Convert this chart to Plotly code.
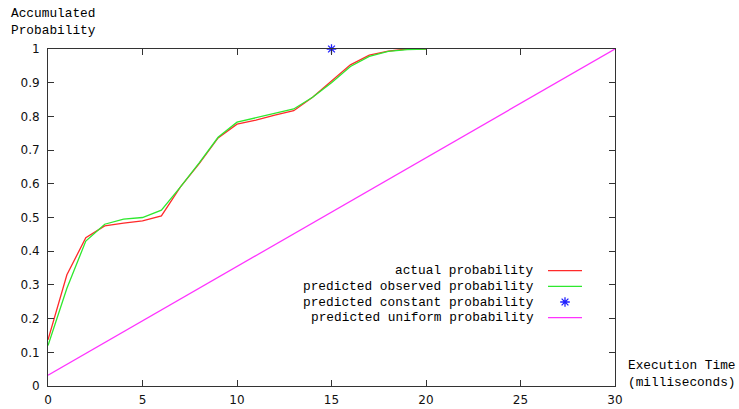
import plotly.graph_objects as go

# ---- data ----
x_ms = list(range(0, 21))
actual = [0.137, 0.33, 0.44, 0.475, 0.483, 0.49, 0.505, 0.59, 0.66, 0.736, 0.777,
          0.789, 0.804, 0.817, 0.857, 0.905, 0.953, 0.982, 0.994, 1.0, 1.0]
observed = [0.12, 0.29, 0.43, 0.48, 0.495, 0.50, 0.522, 0.59, 0.662, 0.738, 0.783,
            0.796, 0.808, 0.822, 0.857, 0.90, 0.948, 0.978, 0.993, 0.998, 1.0]
const_x = [15]
const_y = [1.0]
uniform_x = [0, 30]
uniform_y = [0.032, 1.0]

legend_labels = ["actual probability", "predicted observed probability",
                 "predicted constant probability", "predicted uniform probability"]

RED = "#ff2a2a"
GREEN = "#2ee82e"
BLUE = "#2020ff"
MAG = "#ff33ff"
MONO = "Liberation Mono, DejaVu Sans Mono, monospace"
SANS = "DejaVu Sans, Liberation Sans, sans-serif"

W, H = 739, 409
L, R, T, B = 48, 124, 49, 23
PW, PH = W - L - R, H - T - B


def px(xp):  # page pixel -> paper fraction
    return (xp - L) / PW


def py(yp):
    return (H - B - yp) / PH


fig = go.Figure()
fig.add_trace(go.Scatter(x=x_ms, y=actual, mode="lines", line=dict(color=RED, width=1.3)))
fig.add_trace(go.Scatter(x=x_ms, y=observed, mode="lines", line=dict(color=GREEN, width=1.3)))
fig.add_trace(go.Scatter(x=const_x, y=const_y, mode="markers", cliponaxis=False,
                         marker=dict(symbol="asterisk-open", size=8, color=BLUE,
                                     line=dict(color=BLUE, width=1.3))))
fig.add_trace(go.Scatter(x=uniform_x, y=uniform_y, mode="lines", line=dict(color=MAG, width=1.3)))

# custom legend (samples on the right of right-aligned labels, gnuplot style)
row_y = [270.7, 286.3, 302, 317.6]
styles = [("line", RED), ("line", GREEN), ("marker", BLUE), ("line", MAG)]
shapes = []
annotations = []
for ry, (kind, col), lab in zip(row_y, styles, legend_labels):
    if kind == "line":
        shapes.append(dict(type="line", xref="paper", yref="paper",
                           x0=px(548), x1=px(582), y0=py(ry), y1=py(ry),
                           line=dict(color=col, width=1.3)))
    else:
        fig.add_trace(go.Scatter(x=[px(565) * 30], y=[py(ry)], mode="markers",
                                 hoverinfo="skip",
                                 marker=dict(symbol="asterisk-open", size=8, color=col,
                                             line=dict(color=col, width=1.3))))
    annotations.append(dict(x=px(536), y=py(ry), xref="paper", yref="paper", text=lab,
                            showarrow=False, xanchor="right", yanchor="middle",
                            font=dict(family=MONO, size=12.8, color="black")))

annotations.append(dict(x=px(9), y=py(22), xref="paper", yref="paper", showarrow=False,
                        text="Accumulated<br>Probability", align="left",
                        xanchor="left", yanchor="middle",
                        font=dict(family=MONO, size=12.8, color="black")))
annotations.append(dict(x=px(626), y=py(374), xref="paper", yref="paper", showarrow=False,
                        text="Execution Time<br>(milliseconds)", align="right",
                        xanchor="left", yanchor="middle",
                        font=dict(family=MONO, size=12.8, color="black")))

axis_common = dict(showgrid=False, zeroline=False, showline=True, linecolor="#333",
                   linewidth=1, ticks="inside", ticklen=6, tickcolor="#333",
                   mirror="allticks", automargin=False,
                   tickfont=dict(family=SANS, size=12, color="#111"))

fig.update_layout(
    width=W, height=H,
    margin=dict(l=L, r=R, t=T, b=B),
    paper_bgcolor="white", plot_bgcolor="white",
    showlegend=False,
    xaxis=dict(range=[0, 30], tickmode="linear", tick0=0, dtick=5,
               ticklabelstandoff=3, **axis_common),
    yaxis=dict(range=[0, 1], tickmode="linear", tick0=0, dtick=0.1,
               ticklabelstandoff=5, **axis_common),
    shapes=shapes,
    annotations=annotations,
)

fig.write_html("out.html",
               config={"displayModeBar": False, "staticPlot": True},
               post_script="document.body.style.margin='0';"
                           "document.body.style.overflow='hidden';")
